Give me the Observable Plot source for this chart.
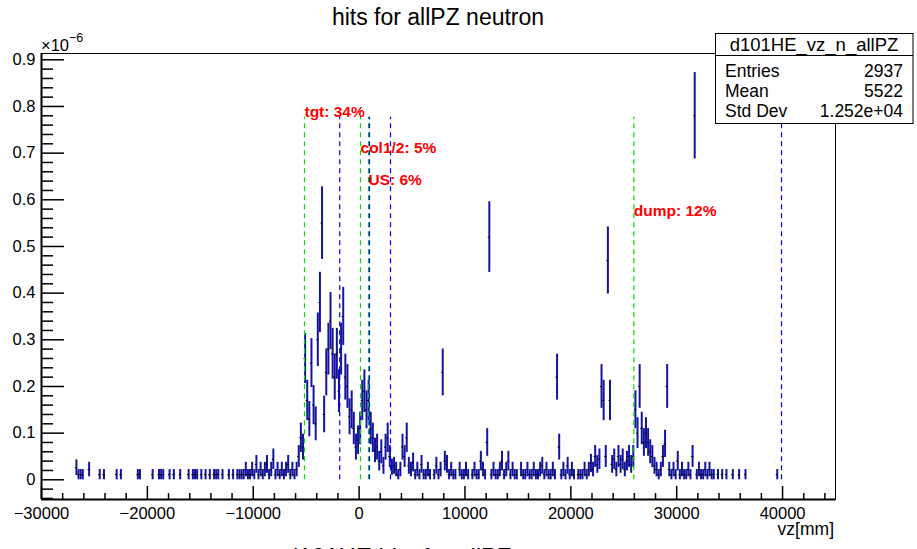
<!DOCTYPE html>
<html><head><meta charset="utf-8">
<script src="https://cdn.jsdelivr.net/npm/d3@7"></script>
<script src="https://cdn.jsdelivr.net/npm/@observablehq/plot@0.6"></script>
<style>
html,body{margin:0;padding:0;background:#fff;overflow:hidden;}
#wrap{position:relative;width:917px;height:549px;overflow:hidden;}
</style></head>
<body><div id="wrap"></div>
<script>
// ---- data (values in units of 1e-6) ----
const entryWeight = 0.011;
const binWidth = 200;
const leftTail = [[-26700,0.026],[-26500,0.011],[-26300,0.011],[-26100,0.011],[-25500,0.022],[-24500,0.011],[-24100,0.011],[-22900,0.011],[-22500,0.011],[-20900,0.011],[-20700,0.011],[-19500,0.011],[-18900,0.011],[-18700,0.011],[-18500,0.011],[-17900,0.011],[-17500,0.011],[-16900,0.011],[-16100,0.011],[-15700,0.011],[-15500,0.011],[-15300,0.011],[-14900,0.011],[-14500,0.011],[-14100,0.011],[-13700,0.011],[-13500,0.011],[-13300,0.011],[-12900,0.011],[-12300,0.011],[-11900,0.011],[-11500,0.011],[-11300,0.011]];
const approach = [[-11100,0.011],[-10900,0.011],[-10700,0.022],[-10500,0.011],[-10300,0.011],[-10100,0.022],[-9900,0.011],[-9700,0.033],[-9500,0.011],[-9300,0.022],[-9100,0.011],[-8900,0.022],[-8700,0.033],[-8500,0.011],[-8300,0.022],[-8100,0.044],[-7900,0.011],[-7700,0.022],[-7500,0.011],[-7300,0.022],[-7100,0.011],[-6900,0.022],[-6700,0.033],[-6500,0.011],[-6300,0.022],[-6100,0.011],[-5900,0.022]];
const targetPeak = [[-5700,0.05],[-5500,0.09],[-5300,0.07],[-5100,0.26],[-4900,0.17],[-4700,0.13],[-4500,0.25],[-4300,0.16],[-4100,0.12],[-3900,0.30],[-3700,0.38],[-3500,0.55],[-3300,0.14],[-3100,0.23],[-2900,0.28],[-2700,0.34],[-2500,0.27],[-2300,0.22],[-2100,0.27],[-1900,0.19],[-1700,0.28],[-1500,0.35],[-1300,0.22],[-1100,0.20],[-900,0.135],[-700,0.15],[-500,0.11],[-300,0.07],[-100,0.085],[100,0.11],[300,0.17],[500,0.19],[700,0.15],[900,0.17],[1100,0.11],[1300,0.09],[1500,0.063],[1700,0.07],[1900,0.04],[2100,0.06],[2300,0.03],[2500,0.07],[2700,0.09],[2900,0.05],[3100,0.027],[3300,0.03],[3500,0.022],[3700,0.011],[3900,0.022]];
const midRange = [[4100,0.07],[4300,0.05],[4500,0.09],[4700,0.03],[4900,0.022],[5100,0.037],[5300,0.011],[5500,0.022],[5700,0.011],[5900,0.033],[6100,0.011],[6300,0.011],[6500,0.022],[6700,0.011],[7100,0.011],[7300,0.03],[7500,0.011],[7700,0.022],[7900,0.23],[8100,0.04],[8300,0.033],[8500,0.011],[8700,0.022],[8900,0.011],[9100,0.011],[9500,0.022],[9700,0.011],[9900,0.011],[10100,0.022],[10300,0.011],[10700,0.011],[10900,0.022],[11100,0.011],[11300,0.011],[11500,0.04],[11700,0.022],[11900,0.011],[12100,0.08],[12300,0.52],[12500,0.011],[12700,0.022],[12900,0.011],[13100,0.011],[13300,0.022],[13500,0.04],[13700,0.011],[13900,0.022],[14100,0.04],[14300,0.011],[14500,0.022],[14700,0.011],[14900,0.011],[15300,0.022],[15500,0.011],[15700,0.011],[15900,0.022],[16100,0.011],[16300,0.011],[16500,0.022],[16700,0.011],[16900,0.011],[17100,0.022],[17300,0.03],[17500,0.011],[17700,0.022],[17900,0.011],[18100,0.011],[18300,0.022],[18500,0.011],[18700,0.22],[18900,0.07],[19100,0.011],[19300,0.022],[19500,0.011],[19700,0.03],[19900,0.011],[20100,0.022],[20300,0.011],[20700,0.011],[20900,0.011],[21100,0.011],[21300,0.022],[21500,0.011],[21700,0.022],[21900,0.035],[22100,0.022],[22300,0.05],[22500,0.033],[22700,0.044],[22900,0.2],[23100,0.17],[23300,0.05],[23500,0.47],[23700,0.17],[23900,0.033],[24100,0.044],[24300,0.022],[24500,0.05],[24700,0.033],[24900,0.044],[25100,0.022],[25300,0.04],[25500,0.05],[25700,0.033],[25900,0.05]];
const dumpPeak = [[26100,0.15],[26300,0.10],[26500,0.20],[26700,0.11],[26900,0.08],[27100,0.10],[27300,0.08],[27500,0.06],[27700,0.05],[27900,0.03],[28100,0.022],[28300,0.011],[28500,0.022],[28700,0.05],[28900,0.077],[29100,0.20],[29300,0.022],[29500,0.011],[29700,0.022],[29900,0.011],[30100,0.04],[30300,0.011],[30500,0.022],[30700,0.011],[30900,0.011],[31100,0.022],[31300,0.011],[31500,0.05],[31700,0.78],[31900,0.011],[32100,0.022],[32300,0.011],[32500,0.011],[32700,0.022],[32900,0.011],[33100,0.022],[33300,0.011],[33500,0.011]];
const farTail = [[33900,0.011],[34300,0.011],[34700,0.011],[35300,0.011],[35900,0.011],[36500,0.011],[39500,0.011]];

const greenLines = [-5160, 133, 888, 25950];
const blueLines = [-1830, 980, 2967, 39900];
const lineTop = 0.777;
const labelText = ["tgt: 34%", "col1/2: 5%", "US: 6%", "dump: 12%"];
const labelVz = [-5160, 133, 888, 25950];
const labelY = [0.778, 0.700, 0.631, 0.565];

const xMajor = [-30000, -20000, -10000, 0, 10000, 20000, 30000, 40000];
const xMinor = d3.range(-30000, 45001, 2000).filter(v => v % 10000 !== 0);
const yMajor = [0, 0.1, 0.2, 0.3, 0.4, 0.5, 0.6, 0.7, 0.8, 0.9];
const yMinor = [-0.04,-0.02,0.02,0.04,0.06,0.08,0.12,0.14,0.16,0.18,0.22,0.24,0.26,0.28,0.32,0.34,0.36,0.38,0.42,0.44,0.46,0.48,0.52,0.54,0.56,0.58,0.62,0.64,0.66,0.68,0.72,0.74,0.76,0.78,0.82,0.84,0.86,0.88];

const statsName = "d101HE_vz_n_allPZ";
const statsRows = [["Entries", "2937"], ["Mean", "5522"], ["Std Dev", "1.252e+04"]];

const bins = [...leftTail, ...approach, ...targetPeak, ...midRange, ...dumpPeak, ...farTail]
  .map(([vz, v]) => ({vz, v, e: Math.sqrt(v * entryWeight)}));
const labels = labelText.map((t, i) => ({t, x: labelVz[i], y: labelY[i]}));

const FONT = "'Liberation Sans', Arial, Helvetica, sans-serif";
const xDom = [-30000, 45000], yDom = [-0.0422, 0.9135];

const chart = Plot.plot({
  width: 917, height: 549,
  marginLeft: 41, marginRight: 82, marginTop: 53, marginBottom: 50,
  x: {domain: xDom},
  y: {domain: yDom},
  style: {fontFamily: FONT, background: "white", color: "black"},
  marks: [
    Plot.ruleX(bins, {x: "vz", y1: d => d.v - d.e, y2: d => d.v + d.e, stroke: "#14149e", strokeWidth: 2}),
    Plot.ruleY(bins, {y: "v", x1: d => d.vz - binWidth / 2, x2: d => d.vz + binWidth / 2, stroke: "black", strokeWidth: 1}),
    Plot.ruleX(greenLines, {x: d => d, y1: 0, y2: lineTop, stroke: "#00dd00", strokeWidth: 1.2, strokeDasharray: "5,4"}),
    Plot.ruleX(blueLines, {x: d => d, y1: 0, y2: lineTop, stroke: "#0000ff", strokeWidth: 1.2, strokeDasharray: "5,4"}),
    Plot.text(labels, {x: "x", y: "y", text: "t", textAnchor: "start", lineAnchor: "bottom", fill: "#ff0000", fontWeight: "bold", fontSize: 15.5, fontFamily: FONT}),
    Plot.frame({stroke: "black", strokeWidth: 1}),
    Plot.ruleX([xDom[0]], {stroke: "black", strokeWidth: 2}),
    Plot.ruleY([yDom[0]], {stroke: "black", strokeWidth: 2}),
    Plot.axisX(xMajor, {anchor: "bottom", tickSize: -13, tickPadding: 21, strokeWidth: 1.5, fontSize: 16.5, label: null,
      tickFormat: d => d < 0 ? "\u2212" + Math.abs(d) : String(d)}),
    Plot.axisX(xMinor, {anchor: "bottom", tickSize: -6, strokeWidth: 1.5, tickFormat: () => "", label: null}),
    Plot.axisY(yMajor, {anchor: "left", tickSize: -23, tickPadding: 29, strokeWidth: 1.5, fontSize: 16.5, label: null,
      tickFormat: d => d === 0 ? "0" : d.toFixed(1)}),
    Plot.axisY(yMinor, {anchor: "left", tickSize: -12, strokeWidth: 1.5, tickFormat: () => "", label: null})
  ]
});
const wrap = document.getElementById("wrap");
chart.style.position = "absolute"; chart.style.left = "0"; chart.style.top = "0";
wrap.appendChild(chart);

// ---- overlay: title, exponent, axis title, stats box ----
const ov = d3.select(wrap).append("svg")
  .attr("width", 917).attr("height", 549)
  .style("position", "absolute").style("left", "0").style("top", "0")
  .style("font-family", FONT);
ov.append("text").attr("x", 438).attr("y", 25).attr("text-anchor", "middle").attr("font-size", 23).text("hits for allPZ neutron");
const ex = ov.append("text").attr("x", 41).attr("y", 51).attr("font-size", 16.5);
ex.append("tspan").text("\u00d710");
ex.append("tspan").attr("dy", -9).attr("font-size", 12.5).text("\u22126");
ov.append("text").attr("x", 834).attr("y", 535).attr("text-anchor", "end").attr("font-size", 17.5).text("vz[mm]");
ov.append("text").attr("x", 285).attr("y", 565).attr("font-size", 24).text("d101HE hits for allPZ neutron");

const box = ov.append("g");
box.append("rect").attr("x", 715.5).attr("y", 33.5).attr("width", 197.5).attr("height", 90).attr("fill", "white").attr("stroke", "black").attr("stroke-width", 1);
box.append("line").attr("x1", 715.5).attr("x2", 913).attr("y1", 55.5).attr("y2", 55.5).attr("stroke", "black");
box.append("text").attr("x", 814).attr("y", 51).attr("text-anchor", "middle").attr("font-size", 18.5).text(statsName);
statsRows.forEach(([k, v], i) => {
  const y = 76.5 + i * 20.3;
  box.append("text").attr("x", 725).attr("y", y).attr("font-size", 17.5).text(k);
  box.append("text").attr("x", 903).attr("y", y).attr("text-anchor", "end").attr("font-size", 17.5).text(v);
});
</script>
</body></html>
